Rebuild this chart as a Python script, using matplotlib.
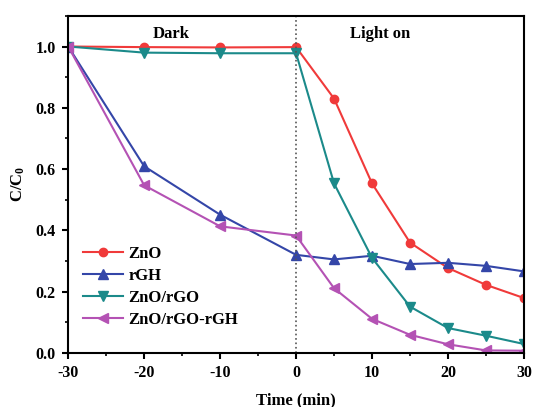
import numpy as np
import matplotlib.pyplot as plt
from matplotlib.ticker import MultipleLocator

plt.rcParams['font.family'] = ['Liberation Serif', 'DejaVu Serif']
plt.rcParams['font.weight'] = 'bold'
plt.rcParams['mathtext.fontset'] = 'custom'
plt.rcParams['mathtext.rm'] = 'Liberation Serif:bold'
plt.rcParams['mathtext.default'] = 'rm'
plt.rcParams['axes.unicode_minus'] = False

time = [-30, -20, -10, 0, 5, 10, 15, 20, 25, 30]
zno = [1.0, 0.998, 0.997, 0.998, 0.83, 0.553, 0.36, 0.277, 0.222, 0.179]
rgh = [1.0, 0.609, 0.451, 0.32, 0.305, 0.317, 0.29, 0.294, 0.284, 0.266]
zno_rgo = [1.0, 0.98, 0.978, 0.978, 0.553, 0.31, 0.151, 0.081, 0.056, 0.029]
zno_rgo_rgh = [1.0, 0.547, 0.413, 0.383, 0.211, 0.111, 0.059, 0.028, 0.008, 0.007]

fig = plt.figure(figsize=(5.33, 4.07), dpi=100)
ax = fig.add_axes([0.128, 0.133, 0.855, 0.828])

ax.plot(time, zno, color='#f03a3a', marker='o', ms=6, lw=1.5, label='ZnO')
ax.plot(time, rgh, color='#3446a8', marker='^', ms=6.5, lw=1.5, label='rGH')
ax.plot(time, zno_rgo, color='#1b8a8a', marker='v', ms=6.5, lw=1.5, label='ZnO/rGO')
ax.plot(time, zno_rgo_rgh, color='#b452b4', marker='<', ms=6.5, lw=1.5, label='ZnO/rGO-rGH')

ax.axvline(0, color='#555555', ls=':', lw=1.2)

ax.text(-16.5, 1.04, 'Dark', fontsize=12, fontweight='bold', ha='center', va='center')
ax.text(11, 1.04, 'Light on', fontsize=12, fontweight='bold', ha='center', va='center')

ax.set_xlim(-30, 30)
ax.set_ylim(0, 1.1)
ax.xaxis.set_major_locator(MultipleLocator(10))
ax.xaxis.set_minor_locator(MultipleLocator(5))
ax.yaxis.set_major_locator(MultipleLocator(0.2))
ax.yaxis.set_minor_locator(MultipleLocator(0.1))
ax.yaxis.set_major_formatter(plt.FormatStrFormatter('%.1f'))
ax.tick_params(which='major', direction='out', length=4, width=1.5, labelsize=11.5, pad=5)
ax.tick_params(which='minor', direction='out', length=2.5, width=1.2)
for s in ax.spines.values():
    s.set_linewidth(1.5)

ax.set_xlabel('Time (min)', fontsize=12, fontweight='bold', labelpad=8)
ax.set_ylabel('C/C$_0$', fontsize=12, fontweight='bold', labelpad=6)

ax.legend(loc='lower left', bbox_to_anchor=(0.0, 0.03), frameon=False,
          fontsize=12, handlelength=2.4, labelspacing=0.36, handletextpad=0.3)

fig.savefig('out.png', dpi=100)
